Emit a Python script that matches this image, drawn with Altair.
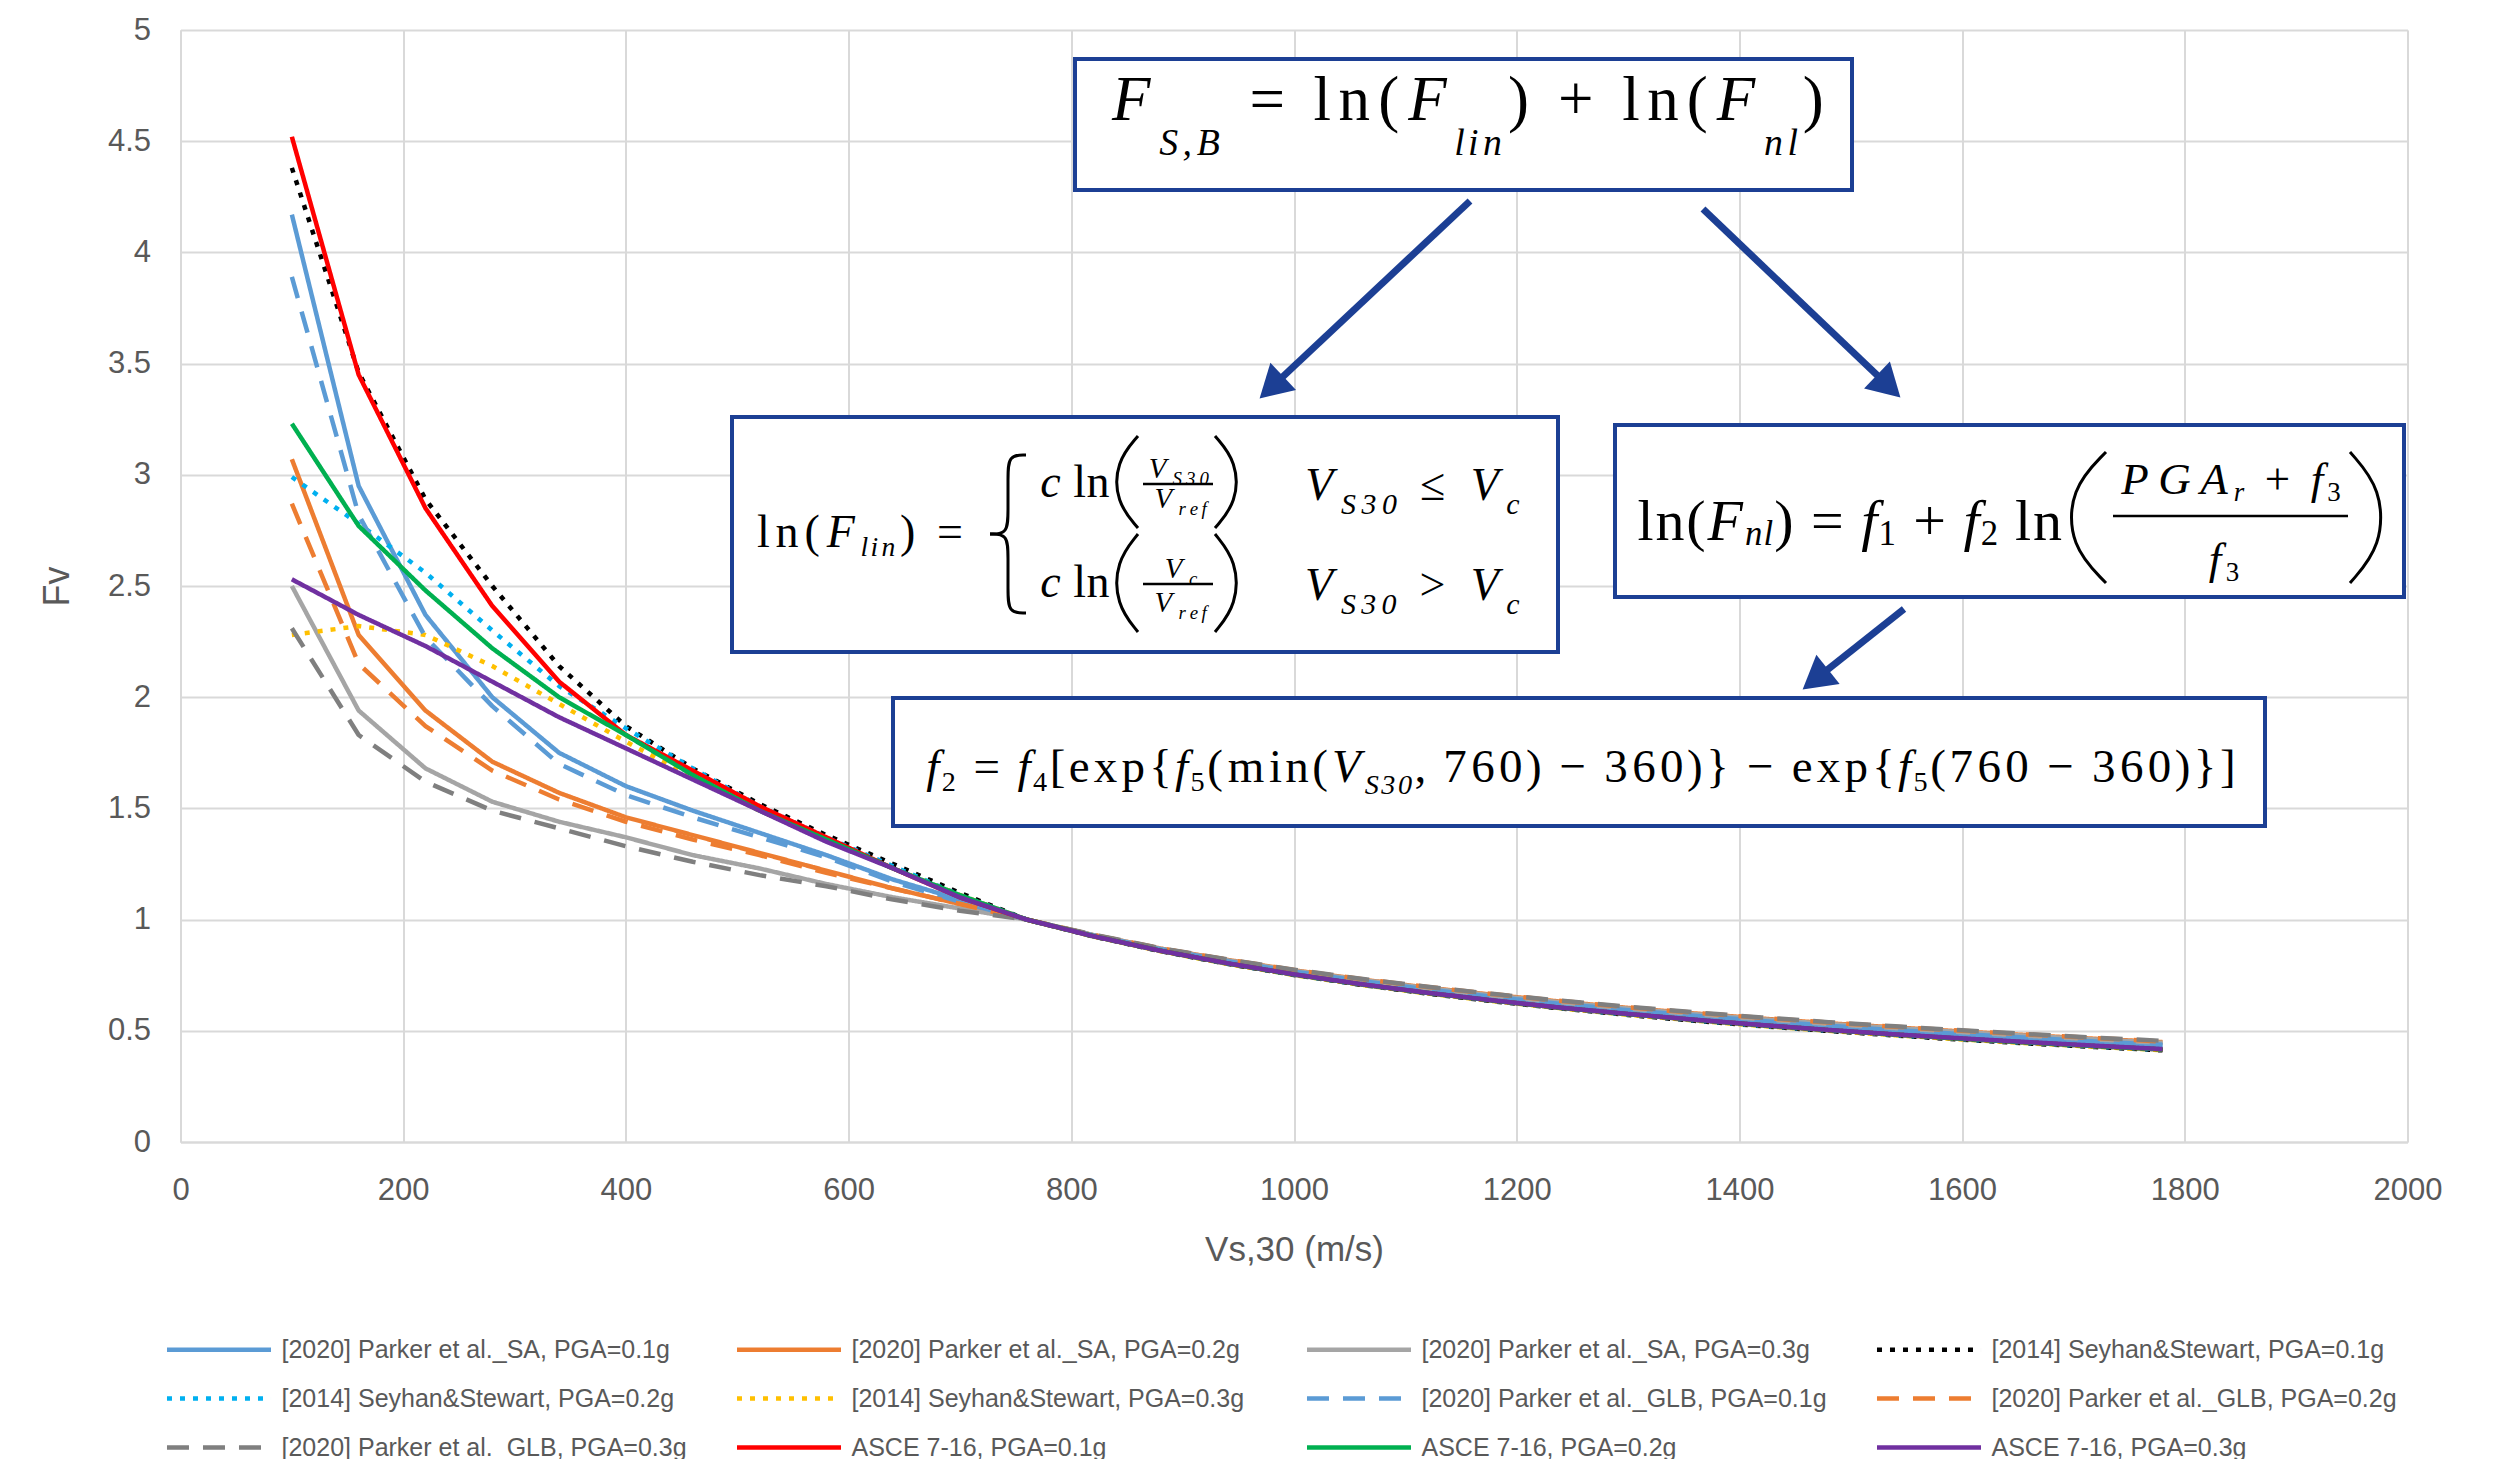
import math
import altair as alt
import pandas as pd

# ---------------- data ----------------
XS = [100, 160, 220, 280, 340, 400, 460, 520, 580, 640, 700, 760, 820, 880, 940,
      1000, 1060, 1120, 1180, 1240, 1300, 1360, 1420, 1480, 1540, 1600, 1660, 1720, 1780]

SERIES = [
    "[2020] Parker et al._SA, PGA=0.1g",
    "[2020] Parker et al._SA, PGA=0.2g",
    "[2020] Parker et al._SA, PGA=0.3g",
    "[2014] Seyhan&Stewart, PGA=0.1g",
    "[2014] Seyhan&Stewart, PGA=0.2g",
    "[2014] Seyhan&Stewart, PGA=0.3g",
    "[2020] Parker et al._GLB, PGA=0.1g",
    "[2020] Parker et al._GLB, PGA=0.2g",
    "[2020] Parker et al._GLB, PGA=0.3g",
    "ASCE 7-16, PGA=0.1g",
    "ASCE 7-16, PGA=0.2g",
    "ASCE 7-16, PGA=0.3g",
]

SA01 = [4.17, 2.95, 2.37, 2.00, 1.75, 1.60, 1.49, 1.39, 1.29, 1.18, 1.09, 1.00, 0.928, 0.866, 0.812,
        0.764, 0.722, 0.684, 0.650, 0.619, 0.591, 0.566, 0.542, 0.521, 0.501, 0.483, 0.466, 0.450, 0.435]
SA02 = [3.07, 2.28, 1.94, 1.71, 1.57, 1.46, 1.38, 1.30, 1.22, 1.14, 1.07, 1.00, 0.930, 0.870, 0.819,
        0.772, 0.731, 0.694, 0.661, 0.631, 0.603, 0.578, 0.555, 0.534, 0.515, 0.497, 0.480, 0.464, 0.449]
SA03 = [2.50, 1.94, 1.68, 1.53, 1.44, 1.37, 1.29, 1.23, 1.16, 1.10, 1.05, 1.00, 0.930, 0.869, 0.817,
        0.770, 0.729, 0.692, 0.658, 0.628, 0.600, 0.575, 0.552, 0.531, 0.512, 0.494, 0.477, 0.461, 0.446]
SS01 = [4.38, 3.46, 2.89, 2.50, 2.14, 1.87, 1.68, 1.52, 1.38, 1.25, 1.12, 1.00, 0.924, 0.858, 0.801,
        0.751, 0.707, 0.667, 0.632, 0.600, 0.571, 0.545, 0.521, 0.499, 0.479, 0.460, 0.443, 0.427, 0.412]
SS02 = [2.99, 2.78, 2.56, 2.30, 2.05, 1.86, 1.68, 1.51, 1.37, 1.24, 1.11, 1.00, 0.925, 0.859, 0.802,
        0.752, 0.708, 0.669, 0.634, 0.602, 0.573, 0.547, 0.523, 0.501, 0.481, 0.462, 0.445, 0.429, 0.414]
SS03 = [2.28, 2.32, 2.28, 2.14, 1.97, 1.80, 1.64, 1.49, 1.36, 1.23, 1.11, 1.00, 0.924, 0.858, 0.801,
        0.751, 0.707, 0.668, 0.633, 0.601, 0.572, 0.546, 0.522, 0.500, 0.480, 0.461, 0.444, 0.428, 0.413]
GLB01 = [3.89, 2.82, 2.27, 1.96, 1.70, 1.56, 1.46, 1.37, 1.28, 1.17, 1.08, 1.00, 0.929, 0.867, 0.813,
         0.766, 0.724, 0.686, 0.652, 0.621, 0.593, 0.568, 0.544, 0.523, 0.503, 0.485, 0.468, 0.452, 0.437]
GLB02 = [2.87, 2.15, 1.87, 1.67, 1.54, 1.44, 1.36, 1.29, 1.21, 1.14, 1.07, 1.00, 0.931, 0.871, 0.820,
         0.774, 0.733, 0.697, 0.664, 0.634, 0.606, 0.581, 0.558, 0.537, 0.518, 0.500, 0.483, 0.467, 0.452]
GLB03 = [2.31, 1.83, 1.62, 1.49, 1.41, 1.33, 1.26, 1.20, 1.15, 1.09, 1.04, 1.00, 0.932, 0.872, 0.821,
         0.775, 0.734, 0.698, 0.665, 0.635, 0.608, 0.583, 0.560, 0.539, 0.520, 0.502, 0.485, 0.469, 0.455]
ASCE01 = [4.52, 3.45, 2.85, 2.41, 2.07, 1.83, 1.67, 1.51, 1.37, 1.23, 1.10, 1.00, 0.925, 0.860, 0.803,
          0.753, 0.709, 0.670, 0.635, 0.603, 0.575, 0.549, 0.525, 0.503, 0.483, 0.464, 0.447, 0.431, 0.416]
ASCE02 = [3.23, 2.77, 2.48, 2.22, 2.00, 1.83, 1.65, 1.49, 1.36, 1.23, 1.11, 1.00, 0.925, 0.860, 0.803,
          0.753, 0.709, 0.670, 0.635, 0.603, 0.575, 0.549, 0.525, 0.503, 0.483, 0.464, 0.447, 0.431, 0.416]
ASCE03 = [2.53, 2.37, 2.23, 2.07, 1.91, 1.77, 1.63, 1.49, 1.35, 1.23, 1.10, 1.00, 0.925, 0.860, 0.804,
          0.754, 0.710, 0.671, 0.636, 0.604, 0.576, 0.550, 0.526, 0.504, 0.484, 0.466, 0.449, 0.433, 0.418]

VALUES = [SA01, SA02, SA03, SS01, SS02, SS03, GLB01, GLB02, GLB03, ASCE01, ASCE02, ASCE03]

COLORS = ["#5B9BD5", "#ED7D31", "#A5A5A5", "#000000", "#00B0F0", "#FFC000",
          "#5B9BD5", "#ED7D31", "#7F7F7F", "#FF0000", "#00B050", "#7030A0"]
SOLID, DOT, DASH = [1, 0], [5, 8], [22, 14]
DASHES = [SOLID, SOLID, SOLID, DOT, DOT, DOT, DASH, DASH, DASH, SOLID, SOLID, SOLID]
WIDTHS = [4.5, 4.5, 4.5, 6.5, 6.5, 6.5, 4.5, 4.5, 4.5, 4.5, 4.5, 4.5]

X_TICKS = list(range(0, 2001, 200))
Y_TICKS = [0, 0.5, 1, 1.5, 2, 2.5, 3, 3.5, 4, 4.5, 5]

rows = []
for name, vals in zip(SERIES, VALUES):
    for xv, yv in zip(XS, vals):
        rows.append({"x": xv, "y": yv, "series": name})
df = pd.DataFrame(rows)

# ---------------- geometry helpers ----------------
W, H = 2227, 1112
OX, OY = 180.5, 30.0          # plot origin on the page


def px2x(px):
    return (px - OX) * 2000.0 / W


def py2y(py):
    return (OY + H - py) * 5.0 / H


REG = {' ': 250, '(': 333, ')': 333, '+': 564, ',': 250, '.': 250, '=': 564, '>': 564,
       '≤': 549, '−': 564, '[': 333, ']': 333, '{': 480, '}': 480, 'e': 444, 'x': 500,
       'p': 500, 'm': 778, 'i': 278, 'n': 500, 'l': 278, 'c': 444}
ITA = {' ': 250, 'F': 611, 'S': 500, 'B': 611, ',': 250, 'l': 278, 'i': 278, 'n': 500,
       'c': 444, 'V': 611, 'r': 389, 'e': 444, 'f': 278, 'P': 611, 'G': 722, 'A': 611}


def cw(ch, it):
    return (ITA if it else REG).get(ch, 500) / 1000.0


def place(segs, base, y0, x0=None, x1=None, center=None, stretch=1.35):
    nat = sum(cw(ch, it) * base * rel for text, it, rel, dy in segs for ch in text)
    if x0 is not None and x1 is not None:
        k = (x1 - x0) / nat
    else:
        k = stretch
        x0 = center - nat * k / 2.0
    out = []
    cur = x0
    for text, it, rel, dy in segs:
        fs = base * rel
        for ch in text:
            wch = cw(ch, it) * fs * k
            if ch != ' ':
                out.append({"x": px2x(cur + wch / 2.0), "y": py2y(y0 + dy * base),
                            "t": ch, "s": fs, "it": it})
            cur += wch
    return out


I, R = True, False
glyphs = []
# F_S,B = ln(F_lin) + ln(F_nl)
glyphs += place([("F", I, 1, 0), ("S,B", I, 0.6, 0.55), (" = ln(", R, 1, 0), ("F", I, 1, 0),
                 ("lin", I, 0.6, 0.55), (") + ln(", R, 1, 0), ("F", I, 1, 0), ("nl", I, 0.6, 0.55),
                 (")", R, 1, 0)], 63, 120, 1106, 1827)
# ln(F_nl) = f1 + f2 ln( (PGA_r + f3) / f3 )
glyphs += place([("ln(", R, 1, 0), ("F", I, 1, 0), ("nl", I, 0.6, 0.08), (") = ", R, 1, 0),
                 ("f", I, 1, 0), ("1", R, 0.6, 0.08), (" + ", R, 1, 0), ("f", I, 1, 0),
                 ("2", R, 0.6, 0.08), (" ln", R, 1, 0)], 58, 540, 1637, 2063)
glyphs += place([("PGA", I, 1, 0), ("r", I, 0.6, 0.15), (" + ", R, 1, 0), ("f", I, 1, 0),
                 ("3", R, 0.6, 0.15)], 45, 494, 2117, 2343)
glyphs += place([("f", I, 1, 0), ("3", R, 0.6, 0.15)], 45, 574, center=2224, stretch=1.35)
# ln(F_lin) = { ... }
glyphs += place([("ln(", R, 1, 0), ("F", I, 1, 0), ("lin", I, 0.6, 0.2), (") =", R, 1, 0)],
                46, 547, 755, 967)
for yb in (497, 597):
    glyphs += place([("c", I, 1, 0), (" ln", R, 1, 0)], 46, yb, 1040, 1110)
glyphs += place([("V", I, 1, 0), ("S30", I, 0.65, 0.25)], 29, 478, 1145, 1211)
glyphs += place([("V", I, 1, 0), ("ref", I, 0.65, 0.25)], 29, 508, 1150, 1208)
glyphs += place([("V", I, 1, 0), ("c", I, 0.65, 0.25)], 29, 578, center=1180, stretch=1.5)
glyphs += place([("V", I, 1, 0), ("ref", I, 0.65, 0.25)], 29, 612, 1150, 1208)
glyphs += place([("V", I, 1, 0), ("S30", I, 0.65, 0.3), (" ≤ ", R, 1, 0), ("V", I, 1, 0),
                 ("c", I, 0.65, 0.3)], 46, 500, 1300, 1522)
glyphs += place([("V", I, 1, 0), ("S30", I, 0.65, 0.3), (" > ", R, 1, 0), ("V", I, 1, 0),
                 ("c", I, 0.65, 0.3)], 46, 600, 1300, 1522)
# f2 = f4[exp{...} - exp{...}]
glyphs += place([("f", I, 1, 0), ("2", R, 0.6, 0.2), (" = ", R, 1, 0), ("f", I, 1, 0),
                 ("4", R, 0.6, 0.2), ("[exp{", R, 1, 0), ("f", I, 1, 0), ("5", R, 0.6, 0.2),
                 ("(min(", R, 1, 0), ("V", I, 1, 0), ("S30", I, 0.6, 0.25),
                 (", 760) − 360)} − exp{", R, 1, 0), ("f", I, 1, 0), ("5", R, 0.6, 0.2),
                 ("(760 − 360)}]", R, 1, 0)], 47, 782, 925, 2237)
gdf = pd.DataFrame(glyphs)
g_it = gdf[gdf["it"]]
g_rm = gdf[~gdf["it"]]

# boxes (page px: left, top, right, bottom)
BOXES_PX = [(1075, 59, 1852, 190), (732, 417, 1558, 652), (1615, 425, 2404, 597), (893, 698, 2265, 826)]
boxes = pd.DataFrame([{"x": px2x(a), "x2": px2x(c), "y": py2y(b), "y2": py2y(d)} for a, b, c, d in BOXES_PX])

# fraction bars
BARS_PX = [(2113, 2348, 516), (1143, 1213, 484), (1143, 1213, 584)]
bars = pd.DataFrame([{"x": px2x(a), "x2": px2x(b), "y": py2y(c)} for a, b, c in BARS_PX])

# braces / large parentheses as curves
curves = []


def add_curve(cid, pts):
    for k, (a, b) in enumerate(pts):
        curves.append({"id": cid, "k": k, "x": px2x(a), "y": py2y(b)})


def paren(cid, xa, xb, yt, yb):
    h = yb - yt
    add_curve(cid, [(xb, yt), (xa, yt + 0.28 * h), (xa, yb - 0.28 * h), (xb, yb)])


def brace(cid, xl, xr, yt, yb):
    xm, ym = (xl + xr) / 2.0, (yt + yb) / 2.0
    add_curve(cid + "u", [(xr, yt), (xm, yt), (xm, yt + 0.3 * (ym - yt)), (xm, ym - 0.3 * (ym - yt)),
                          (xm, ym), (xl, ym)])
    add_curve(cid + "l", [(xl, ym), (xm, ym), (xm, ym + 0.3 * (yb - ym)), (xm, yb - 0.3 * (yb - ym)),
                          (xm, yb), (xr, yb)])


brace("br", 990, 1026, 455, 613)
paren("p1", 1116, 1138, 436, 528)
paren("p2", 1237, 1215, 436, 528)
paren("p3", 1116, 1138, 534, 632)
paren("p4", 1237, 1215, 534, 632)
paren("p5", 2070, 2106, 452, 583)
paren("p6", 2382, 2350, 452, 583)
cdf = pd.DataFrame(curves)

# arrows (page px: start, tip)
ARROWS_PX = [((1470, 201), (1259, 399)), ((1703, 209), (1901, 398)), ((1904, 609), (1802, 690))]
shafts, heads = [], []
for (sx, sy), (tx, ty) in ARROWS_PX:
    dxp, dyp = tx - sx, ty - sy
    L = math.hypot(dxp, dyp)
    ux, uy = dxp / L, dyp / L
    ex, ey = tx - 22 * ux, ty - 22 * uy
    hx, hy = tx - 17 * ux, ty - 17 * uy
    shafts.append({"x": px2x(sx), "y": py2y(sy), "x2": px2x(ex), "y2": py2y(ey)})
    heads.append({"x": px2x(hx), "y": py2y(hy), "a": math.degrees(math.atan2(dxp, -dyp)) % 360})
sdf = pd.DataFrame(shafts)
hdf = pd.DataFrame(heads)

# ---------------- chart ----------------
GRID = "#D9D9D9"
TXT = "#595959"
NAVY = "#1C3F94"
SX = alt.Scale(domain=[0, 2000], nice=False, zero=False)
SY = alt.Scale(domain=[0, 5], nice=False)
AX = alt.Axis(values=X_TICKS, format="d", grid=True, gridColor=GRID, gridWidth=2,
              domainColor=GRID, domainWidth=2, ticks=False, tickSize=0, labelFlush=False,
              labelFont="Liberation Sans", labelFontSize=31, labelColor=TXT, labelPadding=33,
              title="Vs,30 (m/s)", titleFont="Liberation Sans", titleFontSize=35,
              titleFontWeight="normal", titleColor=TXT, titleY=107, titleBaseline="middle")
AY = alt.Axis(values=Y_TICKS, format="~g", grid=True, gridColor=GRID, gridWidth=2,
              domainColor=GRID, domainWidth=2, ticks=False, tickSize=0, labelFlush=False,
              labelFont="Liberation Sans", labelFontSize=31, labelColor=TXT, labelPadding=30,
              title="Fv", titleFont="Liberation Sans", titleFontSize=36, titleFontWeight="normal",
              titleColor=TXT, titleX=-123, titleY=H / 2, titleAngle=270, titleAlign="center",
              titleBaseline="middle")

# legend symbol: a horizontal stroke longer than the nominal symbol box
LEG = alt.Legend(title=None, orient="none", legendX=3, legendY=1284, direction="horizontal",
                 columns=4, gridAlign="all", symbolType="M-1.576,0H1.576", symbolSize=4356,
                 symbolStrokeWidth=5, labelFont="Liberation Sans", labelFontSize=25,
                 labelColor=TXT, labelOffset=27, labelLimit=800, columnPadding=40,
                 rowPadding=0, padding=0)

X = alt.X("x:Q", scale=SX, axis=AX)
Y = alt.Y("y:Q", scale=SY, axis=AY)

lines = alt.Chart(df).mark_line(strokeJoin="round").encode(
    x=X, y=Y,
    color=alt.Color("series:N", scale=alt.Scale(domain=SERIES, range=COLORS), legend=LEG),
    strokeDash=alt.StrokeDash("series:N", scale=alt.Scale(domain=SERIES, range=DASHES), legend=LEG),
    strokeWidth=alt.StrokeWidth("series:N", scale=alt.Scale(domain=SERIES, range=WIDTHS), legend=LEG),
)

box_layer = alt.Chart(boxes).mark_rect(fill="white", stroke=NAVY, strokeWidth=4).encode(
    x=X, x2="x2:Q", y=Y, y2="y2:Q")

bar_layer = alt.Chart(bars).mark_rule(strokeWidth=2.5, color="black").encode(x=X, x2="x2:Q", y=Y)

curve_layer = alt.Chart(cdf).mark_line(color="black", strokeWidth=3, interpolate="basis").encode(
    x=X, y=Y, detail="id:N", order="k:Q")

txt_it = alt.Chart(g_it).mark_text(font="Liberation Serif", fontStyle="italic", align="center",
                                   baseline="alphabetic", color="black").encode(
    x=X, y=Y, text="t:N", size=alt.Size("s:Q", scale=None))
txt_rm = alt.Chart(g_rm).mark_text(font="Liberation Serif", align="center",
                                   baseline="alphabetic", color="black").encode(
    x=X, y=Y, text="t:N", size=alt.Size("s:Q", scale=None))

shaft_layer = alt.Chart(sdf).mark_rule(strokeWidth=7, color=NAVY).encode(
    x=X, y=Y, x2="x2:Q", y2="y2:Q")
head_layer = alt.Chart(hdf).mark_point(shape="triangle-up", filled=True, size=1400, color=NAVY,
                                       opacity=1).encode(
    x=X, y=Y, angle=alt.Angle("a:Q", scale=None))

chart = alt.layer(lines, box_layer, bar_layer, curve_layer, txt_it, txt_rm, shaft_layer, head_layer).properties(
    width=W, height=H,
    padding={"left": 172.5, "top": 22, "right": 70, "bottom": 317},
    autosize=alt.AutoSizeParams(type="none"),
).configure_view(strokeWidth=0).configure(background="white")

chart.save("out.html", embed_options={"renderer": "svg", "actions": False})
